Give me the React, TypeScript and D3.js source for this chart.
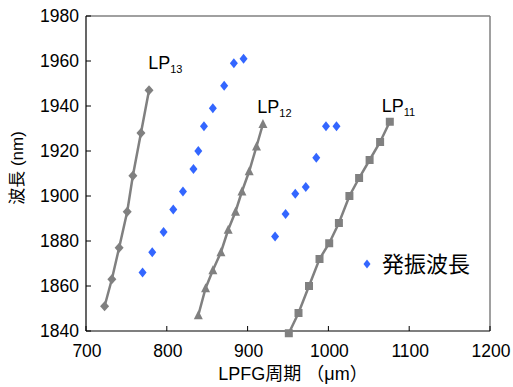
import React from 'react';
import * as d3 from 'd3';

// LPFG period (um) vs wavelength (nm)
const lp13Period = [723, 732, 741, 751, 758, 768, 778];
const lp13Wave = [1851, 1863, 1877, 1893, 1909, 1928, 1947];

const lp12Period = [839, 848, 857, 867, 876, 885, 893, 902, 911, 919];
const lp12Wave = [1847, 1859, 1867, 1875, 1885, 1893, 1902, 1911, 1922, 1932];

const lp11Period = [951, 963, 976, 989, 1001, 1013, 1026, 1038, 1051, 1064, 1076];
const lp11Wave = [1839, 1848, 1860, 1872, 1879, 1888, 1900, 1908, 1916, 1924, 1933];

const oscPeriod = [770, 782, 796, 808, 820, 833, 839, 846, 857, 871, 883, 895,
  934, 947, 959, 972, 985, 997, 1010];
const oscWave = [1866, 1875, 1884, 1894, 1902, 1912, 1920, 1931, 1939, 1949, 1959, 1961,
  1882, 1892, 1901, 1904, 1917, 1931, 1931];

const xTicks = [700, 800, 900, 1000, 1100, 1200];
const yTicks = [1840, 1860, 1880, 1900, 1920, 1940, 1960, 1980];

// label anchors in data units
const seriesLabels = [
  { sub: '13', period: 777, wave: 1956.5 },
  { sub: '12', period: 912, wave: 1937 },
  { sub: '11', period: 1066, wave: 1937.5 },
];

const gray = '#808080';
const blue = '#3366ff';
const latin = '"Liberation Sans", Arial, sans-serif';
const cjk = '"Liberation Sans", "Noto Sans CJK JP", sans-serif';

export default function App() {
  const margin = { left: 86, right: 23, top: 16, bottom: 56 };
  const width = 513;
  const height = 387;

  const x = d3.scaleLinear().domain([700, 1200]).range([margin.left, width - margin.right]);
  const y = d3.scaleLinear().domain([1840, 1980]).range([height - margin.bottom, margin.top]);

  const line = d3.line<[number, number]>()
    .x(d => x(d[0]))
    .y(d => y(d[1]));

  const zip = (a: number[], b: number[]) => a.map((v, i) => [v, b[i]] as [number, number]);
  const lp13 = zip(lp13Period, lp13Wave);
  const lp12 = zip(lp12Period, lp12Wave);
  const lp11 = zip(lp11Period, lp11Wave);
  const osc = zip(oscPeriod, oscWave);

  const diamond = (cx: number, cy: number, w: number, h: number) =>
    `M${cx},${cy - h}L${cx + w},${cy}L${cx},${cy + h}L${cx - w},${cy}Z`;
  const triangle = (cx: number, cy: number) =>
    `M${cx},${cy - 5}L${cx + 4.5},${cy + 4}L${cx - 4.5},${cy + 4}Z`;

  const x0 = x(700), x1 = x(1200), y0 = y(1840), y1 = y(1980);

  return (
    <svg width={width} height={height} style={{ position: 'absolute', left: 0, top: 0 }}>
      <rect width={width} height={height} fill="#fff" />
      {/* frame */}
      <line x1={x0} x2={x1} y1={y1} y2={y1} stroke={gray} strokeWidth={1.5} />
      <line x1={x1} x2={x1} y1={y1} y2={y0} stroke={gray} strokeWidth={1.5} />
      <line x1={x0} x2={x1} y1={y0} y2={y0} stroke="#000" strokeWidth={1.2} />
      <line x1={x0} x2={x0} y1={y1} y2={y0} stroke="#000" strokeWidth={1.2} />

      {/* ticks */}
      {yTicks.map(t => (
        <g key={'y' + t}>
          <line x1={x0} x2={x0 + 5} y1={y(t)} y2={y(t)} stroke="#000" />
          <text x={x0 - 7} y={y(t)} dy="0.36em" textAnchor="end" fontFamily={latin} fontSize={17.5}>{t}</text>
        </g>
      ))}
      {xTicks.map(t => (
        <g key={'x' + t}>
          <line x1={x(t)} x2={x(t)} y1={y0} y2={y0 - 5} stroke="#000" />
          <text x={x(t) + 1} y={y0 + 26} textAnchor="middle" fontFamily={latin} fontSize={17.5}>{t}</text>
        </g>
      ))}

      {/* axis titles */}
      <text x={293} y={380} textAnchor="middle" fontFamily={cjk} fontSize={18} style={{ whiteSpace: 'pre' }}>LPFG周期 （μm）</text>
      <text transform={`translate(23,168) rotate(-90)`} textAnchor="middle" fontFamily={cjk} fontSize={17}>波長 (nm)</text>

      {/* fitted lines */}
      {[lp13, lp12, lp11].map((s, i) => (
        <path key={'l' + i} d={line(s) || ''} fill="none" stroke={gray} strokeWidth={2.5} />
      ))}

      {lp13.map((d, i) => (
        <path key={'d' + i} d={diamond(x(d[0]), y(d[1]), 4.5, 5)} fill={gray} />
      ))}
      {lp12.map((d, i) => (
        <path key={'t' + i} d={triangle(x(d[0]), y(d[1]))} fill={gray} />
      ))}
      {lp11.map((d, i) => (
        <rect key={'s' + i} x={x(d[0]) - 4} y={y(d[1]) - 4} width={8} height={8} fill={gray} />
      ))}
      {osc.map((d, i) => (
        <path key={'o' + i} d={diamond(x(d[0]), y(d[1]), 4, 5)} fill={blue} />
      ))}

      {/* series labels */}
      {seriesLabels.map(l => (
        <text key={l.sub} x={x(l.period)} y={y(l.wave)} fontFamily={latin} fontSize={18}>
          LP<tspan fontSize={11} dy={4}>{l.sub}</tspan>
        </text>
      ))}

      {/* legend */}
      <path d={diamond(367, 264, 3.5, 4.5)} fill={blue} />
      <text x={382} y={264} dy="0.36em" fontFamily={cjk} fontSize={22}>発振波長</text>
    </svg>
  );
}
